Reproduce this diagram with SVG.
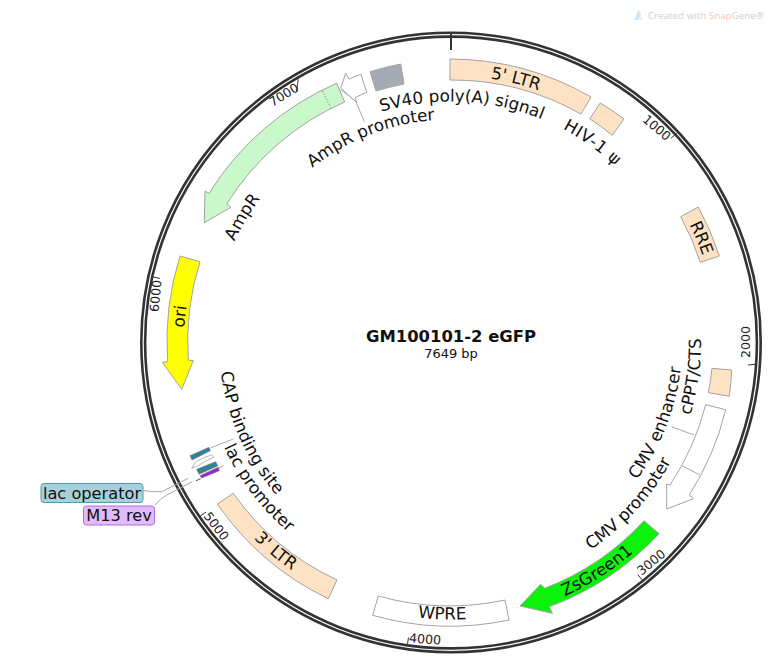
<svg xmlns="http://www.w3.org/2000/svg" xmlns:xlink="http://www.w3.org/1999/xlink" width="770" height="666" viewBox="0 0 770 666">
<style>
text{font-family:"DejaVu Sans",Verdana,sans-serif;fill:#111}
.lb{font-size:16.8px;text-anchor:middle}
.bx{font-size:16.2px;text-anchor:middle}
.tk{font-size:12.6px;text-anchor:middle;fill:#222}
.f{stroke:#a3a3a3;stroke-width:1;stroke-linejoin:round}
.ltr{fill:#fde3c4}
.w{fill:#fff}
.ln{fill:none;stroke:#a8a8a8;stroke-width:1}
.ring{fill:none;stroke:#333;stroke-width:2.6}
.tick{stroke:#333;stroke-width:1;fill:none}
</style>
<defs>
<path id="cw223" d="M451,565.5A223,223 0 1 1 451,119.5A223,223 0 1 1 451,565.5"/>
<path id="cw239" d="M451,581.5A239,239 0 1 1 451,103.5A239,239 0 1 1 451,581.5"/>
<path id="cw241" d="M451,583.5A241,241 0 1 1 451,101.5A241,241 0 1 1 451,583.5"/>
<path id="cw266" d="M451,608.5A266,266 0 1 1 451,76.5A266,266 0 1 1 451,608.5"/>
<path id="cw267" d="M451,609.5A267,267 0 1 1 451,75.5A267,267 0 1 1 451,609.5"/>
<path id="cc231" d="M451,111.5A231,231 0 1 0 451,573.5A231,231 0 1 0 451,111.5"/>
<path id="cc232" d="M451,110.5A232,232 0 1 0 451,574.5A232,232 0 1 0 451,110.5"/>
<path id="cc250" d="M451,92.5A250,250 0 1 0 451,592.5A250,250 0 1 0 451,92.5"/>
<path id="cc277" d="M451,65.5A277,277 0 1 0 451,619.5A277,277 0 1 0 451,65.5"/>
<path id="cc278" d="M451,64.5A278,278 0 1 0 451,620.5A278,278 0 1 0 451,64.5"/>
</defs>
<g id="watermark">
<path d="M634,20L638.5,10L641,14L639,20Z" fill="#cfe8f3"/>
<path d="M640,15L643,20L638,20Z" fill="#dff0f7"/>
<text x="648" y="19" style="font-family:'Open Sans',sans-serif;font-size:9.8px;fill:#cfcfcf">Created with <tspan style="fill:#f5c6c6">Snap</tspan>Gene®</text>
</g>
<g id="backbone">
<circle class="ring" cx="451" cy="342.5" r="309.7"/>
<circle class="ring" cx="451" cy="342.5" r="305.9"/>
<line x1="451" y1="33" x2="451" y2="50" stroke="#333" stroke-width="2"/>
</g>
<g id="ticks">
<path class="tick" d="M676.7,133.3L671,138.3M755,364.3L748,365M642.9,580.9L637.8,574.6M407.3,645.4L408.5,637.5M199.5,516.6L206,512M152,276.7L159.9,278.4M298.3,79.3L296.5,91.5"/>
<text class="tk" transform="translate(656.5,128) rotate(40)" y="4">1000</text>
<text class="tk" transform="translate(746,342) rotate(-90)" y="4">2000</text>
<text class="tk" transform="translate(651.5,562.5) rotate(-39)" y="4">3000</text>
<text class="tk" transform="translate(425,639.5) rotate(4)" y="4">4000</text>
<text class="tk" transform="translate(216,526.5) rotate(52)" y="4">5000</text>
<text class="tk" transform="translate(156,296) rotate(-85)" y="4">6000</text>
<text class="tk" transform="translate(284,95) rotate(-32)" y="4">7000</text>
</g>
<g id="connectors">
<path class="ln" d="M671.7,426.7L694,435"/>
<path class="ln" d="M340.7,89.3L356,101.7L364.3,121.7"/>
<path class="ln" d="M211,447.7L233.3,439"/>
<path class="ln" d="M215,470L223.3,465.7"/>
<path class="ln" d="M143.3,490.7Q155,492 161.7,491.7L188.3,478.3"/>
<path class="ln" d="M155,505Q160,499 166.7,495L192.3,481.7"/>
<path d="M196,480.7L200.7,478.7" stroke="#555" stroke-width="1" fill="none"/>
</g>
<g id="ltr5">
<path class="f ltr" d="M450,59A283,283 0 0 1 591,97L581,114A263,263 0 0 0 450,80Z"/>
<text class="lb"><textPath xlink:href="#cw267" href="#cw267" startOffset="903">5' LTR</textPath></text>
</g>
<g id="hiv1psi">
<path class="f ltr" d="M600.3,103A283,283 0 0 1 624,119L612.3,135.3A263,263 0 0 0 589.7,118.7Z"/>
<text class="lb" style="letter-spacing:.5px"><textPath xlink:href="#cw241" href="#cw241" startOffset="905.2">HIV-1 ψ</textPath></text>
</g>
<g id="rre">
<path class="f ltr" d="M680.7,216.7L698.3,207A283,283 0 0 1 719.3,256L700.3,262.3A263,263 0 0 0 680.7,216.7Z"/>
<text class="lb"><textPath xlink:href="#cw266" href="#cw266" startOffset="1147.7">RRE</textPath></text>
</g>
<g id="cppt">
<path class="f ltr" d="M712,368.3L731.7,370A283,283 0 0 1 729.3,396.3L708.3,392.7A263,263 0 0 0 712,368.3Z"/>
<text class="lb"><textPath xlink:href="#cc250" href="#cc250" startOffset="1142.7">cPPT/CTS</textPath></text>
</g>
<g id="cmv">
<path class="f w" d="M705.7,404.7L725.7,409.7A283,283 0 0 1 689.3,495L693.3,498.7L666.7,509L666.7,484L670,485A263,263 0 0 0 705.7,404.7Z"/>
<path class="ln" d="M682.7,466L700,475"/>
<text class="lb"><textPath xlink:href="#cc231" href="#cc231" startOffset="1002.3">CMV enhancer</textPath></text>
<text class="lb"><textPath xlink:href="#cc250" href="#cc250" startOffset="993.6">CMV promoter</textPath></text>
</g>
<g id="zsgreen1">
<path class="f" fill="#0cf20c" d="M644,520.7L659,533.7A283,283 0 0 1 549.3,606.7L552.3,613.3L520,606L540.7,584.3L544.7,588.3A263,263 0 0 0 644,520.7Z"/>
<text class="lb"><textPath xlink:href="#cc278" href="#cc278" startOffset="1031">ZsGreen1</textPath></text>
</g>
<g id="wpre">
<path class="f w" d="M378.3,596A263,263 0 0 0 505,600L509,620A283,283 0 0 1 372.7,615.3Z"/>
<text class="lb"><textPath xlink:href="#cc277" href="#cc277" startOffset="861">WPRE</textPath></text>
</g>
<g id="ltr3">
<path class="f ltr" d="M233.3,493.3L217.3,504A283,283 0 0 0 328.3,598.7L337,580A263,263 0 0 1 233.3,493.3Z"/>
<text class="lb"><textPath xlink:href="#cc278" href="#cc278" startOffset="678.8">3' LTR</textPath></text>
</g>
<g id="lacpromoter">
<path d="M191.7,468.3L195.7,461.7Q204,457 211.7,455L214,457.3Q206,460 198.3,465.7Z" fill="#fff" stroke="#9a9a9a" stroke-width="0.7"/>
<text class="lb"><textPath xlink:href="#cc250" href="#cc250" startOffset="554.1">lac promoter</textPath></text>
</g>
<g id="capsite">
<path d="M190,455.7L209,447.3L210.3,450.7L192,460Z" fill="#2f8198" stroke="#777" stroke-width="0.6"/>
<text class="lb"><textPath xlink:href="#cc232" href="#cc232" startOffset="462.4">CAP binding site</textPath></text>
</g>
<g id="lacoperator">
<path d="M196.7,469.3L215.7,461.7L217.7,466L199,474.3Z" fill="#2f8198" stroke="#777" stroke-width="0.6"/>
<rect x="41" y="483.5" width="102" height="19" rx="3" fill="#a9d0da" stroke="#4f9db2"/>
<text x="92" y="498.5" class="bx">lac operator</text>
</g>
<g id="m13rev">
<path d="M200,475.7L218.3,467.3L219.3,470.7L201.7,478Z" fill="#9a22d8" stroke="#777" stroke-width="0.6"/>
<rect x="83.5" y="506" width="71" height="19" rx="3" fill="#e2bcfa" stroke="#b46ae6"/>
<text x="119" y="521" class="bx">M13 rev</text>
</g>
<g id="ori">
<path class="f" fill="#ffff00" d="M180,256L200,261.7A263,263 0 0 0 188.3,360L193.3,360.7L181.7,389.3L162.3,362.3L167.7,361.7A283,283 0 0 1 180,256Z"/>
<text class="lb"><textPath xlink:href="#cw267" href="#cw267" startOffset="445">ori</textPath></text>
</g>
<g id="ampr">
<path class="f" fill="#c9f8cb" d="M336.7,83.3L344.7,102A263,263 0 0 0 226.7,204L231,207.3L204.3,222.7L205,191L209,193.3A283,283 0 0 1 336.7,83.3Z"/>
<path d="M322.3,90.7L330.7,107.7" fill="none" stroke="#777" stroke-width="0.8" stroke-dasharray="1.5 1.5"/>
<text class="lb"><textPath xlink:href="#cw239" href="#cw239" startOffset="504.7">AmpR</textPath></text>
</g>
<g id="amprpromoter">
<path class="f w" d="M361,74.3L366.7,92.3A263,263 0 0 0 355,97.7L356.7,102.3L340.7,88.3L345.7,73.3L349,79A283,283 0 0 1 361,74.3Z"/>
<text class="lb"><textPath xlink:href="#cw223" href="#cw223" startOffset="617.3">AmpR promoter</textPath></text>
</g>
<g id="sv40">
<path class="f" fill="#a5abb5" d="M370,71.7A283,283 0 0 1 400.7,64L404,84A263,263 0 0 0 376,91Z"/>
<text class="lb"><textPath xlink:href="#cw241" href="#cw241" startOffset="768">SV40 poly(A) signal</textPath></text>
</g>
<g id="title">
<text x="451" y="342" style="font-size:16.4px;font-weight:bold;text-anchor:middle">GM100101-2 eGFP</text>
<text x="451" y="358" style="font-size:13px;text-anchor:middle">7649 bp</text>
</g>
</svg>
